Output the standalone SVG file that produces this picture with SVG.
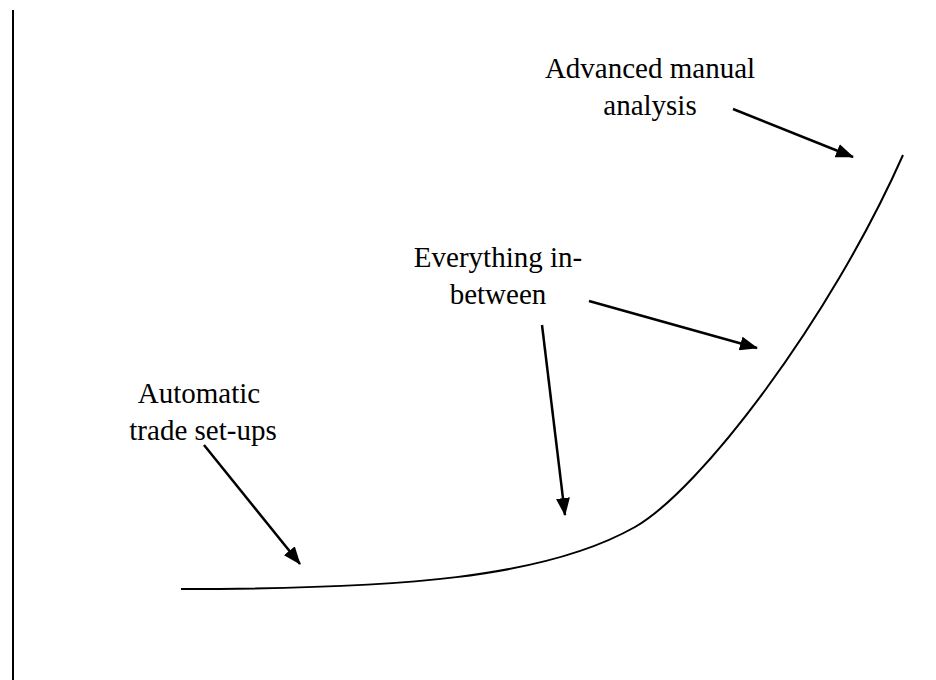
<svg xmlns="http://www.w3.org/2000/svg" width="936" height="680" viewBox="0 0 936 680">
<defs>
<style>
.t{font-family:"Liberation Serif","Times New Roman",serif;font-size:29px;fill:#000;text-anchor:middle}
.c{stroke:#000;stroke-width:2.5;fill:none}
</style>
<marker id="ah" markerWidth="18" markerHeight="14" refX="17" refY="7" orient="auto" markerUnits="userSpaceOnUse" viewBox="0 0 18 14">
<path d="M0,0 L18,7 L0,14 Z" fill="#000"/>
</marker>
</defs>
<rect width="936" height="680" fill="#fff"/>
<line x1="13" y1="10" x2="13" y2="680" stroke="#000" stroke-width="2"/>
<path d="M181,589 C400,589 545,578 635,527 C700,490 830,320 903,155" fill="none" stroke="#000" stroke-width="2"/>
<g id="connectors">
<line class="c" x1="204" y1="445" x2="300" y2="564" marker-end="url(#ah)"/>
<line class="c" x1="542" y1="325" x2="565" y2="515" marker-end="url(#ah)"/>
<line class="c" x1="589" y1="301" x2="757" y2="348" marker-end="url(#ah)"/>
<line class="c" x1="733" y1="109" x2="853" y2="157" marker-end="url(#ah)"/>
</g>
<g id="advanced"><text class="t" x="650" y="78">Advanced manual</text><text class="t" x="650" y="115">analysis</text></g>
<g id="between"><text class="t" x="498" y="267">Everything in-</text><text class="t" x="498" y="304">between</text></g>
<g id="automatic"><text class="t" x="199" y="403">Automatic</text><text class="t" x="203" y="440">trade set-ups</text></g>
</svg>
